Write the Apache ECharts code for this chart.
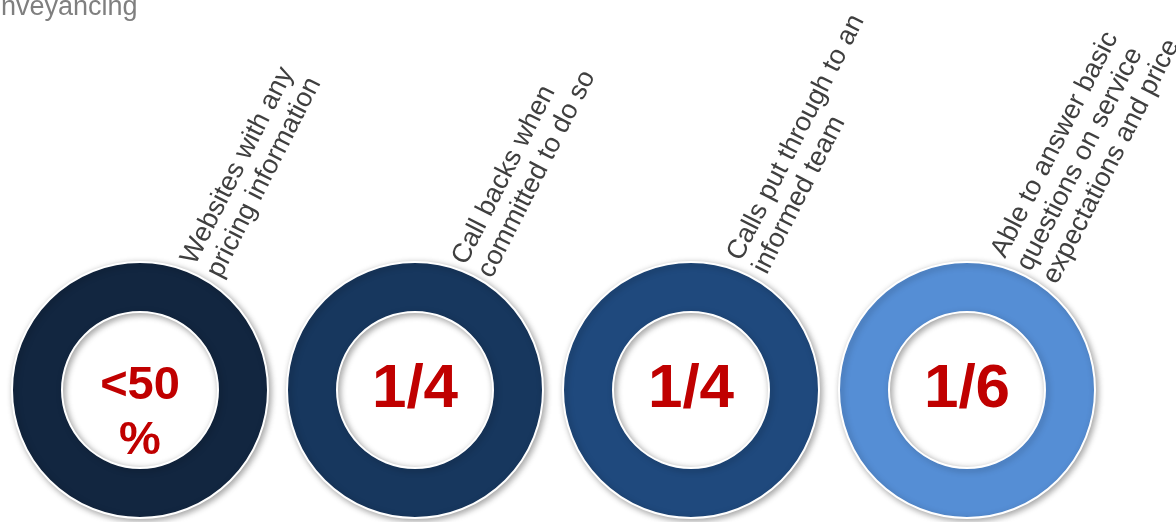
<!DOCTYPE html>
<html>
<head>
<meta charset="utf-8">
<script src="https://cdn.jsdelivr.net/npm/echarts@6/dist/echarts.min.js"></script>
<style>
html,body{margin:0;padding:0;background:#fff;}
#chart{width:1176px;height:522px;}
</style>
</head>
<body>
<div id="chart"></div>
<script>
// ---- data ----
const titleText = 'nveyancing';
const categories = [
  'Websites with any\npricing information',
  'Call backs when\ncommitted to do so',
  'Calls put through to an\ninformed team',
  'Able to answer basic\nquestions on service\nexpectations and price'
];
const centerLabels = ['<50\n%', '1/4', '1/4', '1/6'];
const ringShares = [100, 100, 100, 100];

// ---- layout / style ----
const ringColors = ['#122640', '#17375E', '#1F497D', '#558ED5'];
const centersX = [140, 415, 691, 967];
const centerY = 390;
const labelAnchors = [[195, 266], [466, 266], [741, 262], [1005, 259]];
const centerFont = [{size: 47, lh: 55, dy: 24}, {size: 62, lh: 70, dy: 0}, {size: 62, lh: 70, dy: 0}, {size: 62, lh: 70, dy: 0}];
const FONT = '"Liberation Sans", Arial, sans-serif';

const chart = echarts.init(document.getElementById('chart'), null, {renderer: 'canvas'});

const series = categories.map((cat, i) => ({
  type: 'pie',
  center: [centersX[i], centerY],
  radius: [78, 128],
  startAngle: 90,
  silent: true,
  animation: false,
  emphasis: {disabled: true},
  labelLine: {show: false},
  label: {
    show: true,
    position: 'center',
    formatter: () => centerLabels[i],
    fontFamily: FONT,
    fontWeight: 'bold',
    fontSize: centerFont[i].size,
    lineHeight: centerFont[i].lh,
    color: '#C00000',
    offset: [0, centerFont[i].dy]
  },
  itemStyle: {
    color: ringColors[i],
    borderColor: '#ffffff',
    borderWidth: 2,
    shadowBlur: 6,
    shadowColor: 'rgba(0,0,0,0.35)',
    shadowOffsetX: 2,
    shadowOffsetY: 2
  },
  data: [{value: ringShares[i], name: cat}]
}));

const graphics = [{
  type: 'text',
  x: 1, y: 8,
  style: {
    text: titleText,
    font: '27px ' + FONT,
    fill: '#7F7F7F',
    textAlign: 'left',
    textVerticalAlign: 'middle',
    verticalAlign: 'middle'
  }
}];
categories.forEach((cat, i) => {
  graphics.push({
    type: 'text',
    x: labelAnchors[i][0],
    y: labelAnchors[i][1],
    rotation: 63 * Math.PI / 180,
    style: {
      text: cat,
      x: 0, y: -22,
      font: '27px ' + FONT,
      lineHeight: 29,
      fill: '#3F3F3F',
      textAlign: 'left',
      textVerticalAlign: 'top',
      verticalAlign: 'top'
    }
  });
});

chart.setOption({
  backgroundColor: '#ffffff',
  animation: false,
  series: series,
  graphic: graphics
});
</script>
</body>
</html>
